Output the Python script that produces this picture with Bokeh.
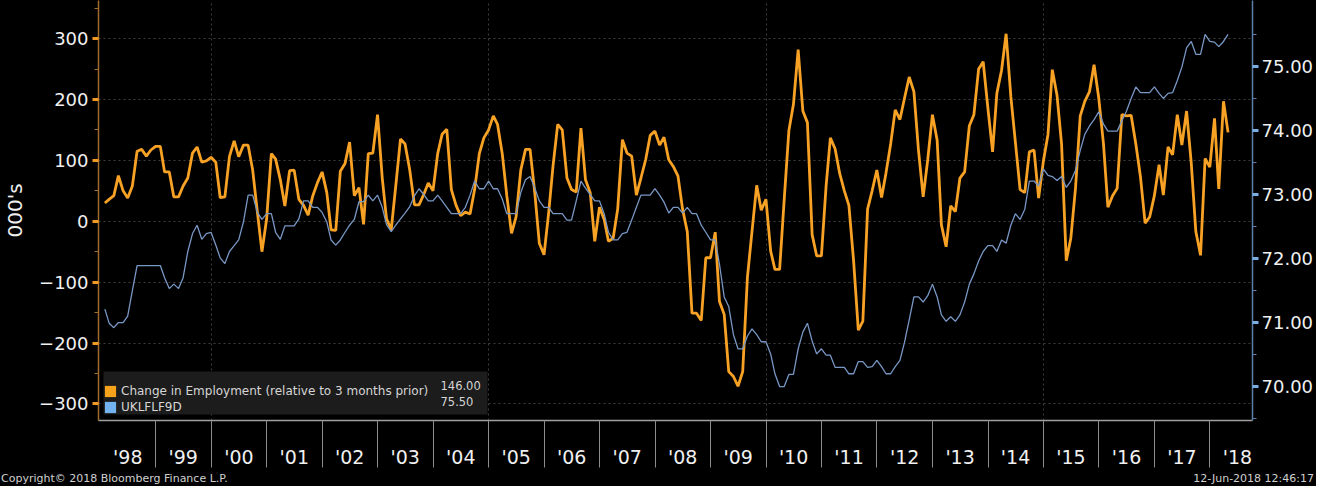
import math
from datetime import datetime
import pandas as pd
from bokeh.plotting import figure
from bokeh.layouts import column
from bokeh.models import (Range1d, LinearAxis, FixedTicker, NumeralTickFormatter,
                          CustomJSTickFormatter, Legend, LegendItem, Label, BoxAnnotation, Div)
from bokeh.embed import file_html
from bokeh.resources import INLINE

# ---------------- data (monthly, Jan 1998 .. Apr 2018) ----------------
emp_change = [  # Change in Employment (relative to 3 months prior), 000's
    30, 36, 42, 75, 50, 38, 58, 115, 118, 107, 117, 123,          # 1998
    123, 81, 81, 40, 40, 58, 71, 112, 122, 97, 99, 105,           # 1999
    97, 39, 40, 106, 132, 106, 125, 125, 84, 15, -50, 4,          # 2000
    111, 102, 68, 25, 83, 84, 36, 26, 10, 42, 63, 81,             # 2001
    47, -14, -15, 82, 95, 130, 42, 55, -5, 111, 112, 175,         # 2002
    71, 4, -14, 58, 135, 127, 84, 27, 27, 44, 63, 50,             # 2003
    111, 143, 151, 52, 26, 9, 15, 12, 52, 111, 137, 150,          # 2004
    173, 159, 111, 42, -20, 7, 84, 118, 118, 47, -36, -55,        # 2005
    15, 90, 159, 150, 71, 52, 48, 153, 68, 47, -33, 23,           # 2006
    3, -33, -28, 20, 134, 112, 107, 43, 71, 101, 141, 148,        # 2007
    125, 138, 101, 90, 74, 20, -17, -151, -151, -163, -60, -60,   # 2008
    -18, -132, -153, -247, -255, -271, -247, -92, -17, 59, 18, 36,  # 2009
    -49, -79, -79, 35, 149, 192, 282, 181, 162, -22, -57, -57,    # 2010
    58, 137, 119, 79, 50, 26, -65, -179, -164, 20, 50, 84,        # 2011
    39, 79, 127, 183, 167, 202, 237, 213, 117, 40, 101, 175,      # 2012
    133, -6, -42, 25, 16, 71, 81, 157, 175, 250, 262, 186,        # 2013
    114, 210, 248, 308, 205, 130, 52, 47, 114, 117, 38, 98,       # 2014
    143, 249, 207, 127, -65, -28, 55, 173, 197, 213, 257, 202,    # 2015
    127, 23, 42, 54, 175, 173, 174, 127, 74, -3, 7, 42,           # 2016
    93, 43, 122, 109, 175, 125, 181, 95, -17, -56, 103, 89,       # 2017
    169, 53, 197, 146,                                            # 2018
]

emp_rate = [  # UKLFLF9D, %
    71.21, 70.99, 70.92, 71.00, 71.00, 71.10, 71.50, 71.89, 71.89, 71.89, 71.89, 71.89,
    71.89, 71.70, 71.53, 71.60, 71.53, 71.70, 72.11, 72.39, 72.52, 72.30, 72.39, 72.41,
    72.21, 72.01, 71.92, 72.11, 72.20, 72.29, 72.57, 72.99, 72.99, 72.72, 72.61, 72.70,
    72.70, 72.41, 72.30, 72.51, 72.51, 72.51, 72.62, 72.90, 72.90, 72.80, 72.80, 72.72,
    72.57, 72.29, 72.21, 72.29, 72.41, 72.52, 72.61, 72.89, 72.89, 72.99, 72.90, 72.99,
    72.80, 72.53, 72.42, 72.52, 72.62, 72.71, 72.81, 72.98, 73.09, 73.00, 72.90, 72.90,
    72.99, 72.90, 72.80, 72.70, 72.70, 72.70, 72.80, 72.99, 73.21, 73.09, 73.09, 73.21,
    73.09, 73.09, 72.93, 72.70, 72.70, 72.70, 73.03, 73.23, 73.28, 73.10, 72.90, 72.80,
    72.80, 72.70, 72.70, 72.70, 72.60, 72.60, 72.90, 73.21, 73.10, 73.00, 72.90, 72.90,
    72.70, 72.41, 72.29, 72.29, 72.39, 72.41, 72.60, 72.80, 72.99, 72.99, 72.99, 73.09,
    72.99, 72.88, 72.71, 72.80, 72.80, 72.71, 72.80, 72.70, 72.70, 72.52, 72.41, 72.29,
    72.29, 71.91, 71.40, 71.25, 70.81, 70.59, 70.59, 70.79, 70.90, 70.81, 70.70, 70.70,
    70.51, 70.20, 70.00, 70.00, 70.19, 70.19, 70.59, 70.85, 70.99, 70.71, 70.51, 70.59,
    70.49, 70.49, 70.30, 70.30, 70.30, 70.20, 70.20, 70.39, 70.39, 70.30, 70.31, 70.41,
    70.31, 70.20, 70.20, 70.31, 70.41, 70.69, 71.04, 71.40, 71.40, 71.32, 71.42, 71.60,
    71.40, 71.12, 71.02, 71.09, 71.02, 71.12, 71.32, 71.60, 71.76, 71.96, 72.11, 72.20,
    72.20, 72.11, 72.29, 72.24, 72.52, 72.70, 72.61, 72.77, 73.21, 73.21, 73.13, 73.40,
    73.30, 73.28, 73.22, 73.28, 73.11, 73.21, 73.38, 73.69, 73.94, 74.07, 74.17, 74.29,
    74.10, 73.99, 73.99, 73.99, 74.15, 74.30, 74.50, 74.68, 74.59, 74.59, 74.59, 74.68,
    74.58, 74.50, 74.58, 74.59, 74.78, 74.99, 75.29, 75.39, 75.19, 75.19, 75.50, 75.39,
    75.38, 75.31, 75.39, 75.50,
]

series_names = ["Change in Employment (relative to 3 months prior)", "UKLFLF9D"]
last_values = ["146.00", "75.50"]
years = list(range(1998, 2019))
year_labels = ["'" + str(y)[-2:] for y in years]
left_ticks = [-300, -200, -100, 0, 100, 200, 300]
left_minor = [-250, -150, -50, 50, 150, 250, 350]
right_ticks = [70, 71, 72, 73, 74, 75]
right_minor = [69.5, 70.5, 71.5, 72.5, 73.5, 74.5, 75.5]
grid_years = [2000, 2005, 2010, 2015]
copyright_text = "Copyright\u00a9 2018 Bloomberg Finance L.P."
stamp_text = "12-Jun-2018 12:46:17"

# ---------------- helpers ----------------
EPOCH = datetime(1970, 1, 1)


def ms(dt):
    return (dt - EPOCH).total_seconds() * 1000.0


dates = pd.date_range("1998-01-01", periods=len(emp_change), freq="MS") + pd.offsets.MonthEnd(0)

mid_ticks = [ms(datetime(y, 7, 1)) for y in years]
sep_ticks = [ms(datetime(y, 1, 1)) for y in years[1:]]
grid_ticks = [ms(datetime(y, 1, 1)) for y in grid_years]

ORANGE = "#f8a225"
BLUE_LINE = "#7897c4"
FONT = "DejaVu Sans"
W = 1316

p = figure(width=W, height=470, x_axis_type="datetime",
           x_range=Range1d(datetime(1997, 12, 20), datetime(2018, 10, 8)),
           y_range=Range1d(-327.3, 362.6),
           output_backend="svg", toolbar_location=None,
           background_fill_color="black", border_fill_color="black",
           outline_line_color=None,
           min_border_left=91, min_border_right=62, min_border_top=0, min_border_bottom=48)
p.title.visible = False

p.extra_y_ranges = {"rate": Range1d(69.47, 76.03)}

# grids
p.ygrid.grid_line_color = "#3e3e3e"
p.ygrid.grid_line_dash = "2 3"
p.xgrid.ticker = FixedTicker(ticks=grid_ticks)
p.xgrid.grid_line_color = "#3e3e3e"
p.xgrid.grid_line_dash = "2 3"

# lines
p.line(dates, emp_change, line_color=ORANGE, line_width=2.8)
p.line(dates, emp_rate, y_range_name="rate", line_color=BLUE_LINE, line_width=1.3)

# left axis
la = p.yaxis[0]
la.ticker = FixedTicker(ticks=left_ticks, minor_ticks=left_minor)
la.axis_line_color = "#a06c2c"
la.axis_line_width = 1.5
la.major_tick_line_color = "#f09a25"
la.major_tick_line_width = 3
la.major_tick_out = 6
la.major_tick_in = 0
la.minor_tick_line_color = "#a06c2c"
la.minor_tick_out = 4
la.minor_tick_in = 0
la.major_label_text_color = "#f0f0f0"
la.major_label_text_font = FONT
la.major_label_text_font_size = "18px"
la.major_label_standoff = 4
la.axis_label = "000's"
la.axis_label_text_font = FONT
la.axis_label_text_font_size = "20px"
la.axis_label_text_font_style = "normal"
la.axis_label_text_color = "#f0f0f0"
la.axis_label_standoff = 9

# right axis
ra = LinearAxis(y_range_name="rate",
                ticker=FixedTicker(ticks=right_ticks, minor_ticks=right_minor),
                formatter=NumeralTickFormatter(format="0.00"))
ra.axis_line_color = "#5c7faa"
ra.axis_line_width = 1.5
ra.major_tick_line_color = "#78b0e6"
ra.major_tick_line_width = 3
ra.major_tick_out = 6
ra.major_tick_in = 0
ra.minor_tick_line_color = "#5c7faa"
ra.minor_tick_out = 4
ra.minor_tick_in = 0
ra.major_label_text_color = "#f0f0f0"
ra.major_label_text_font = FONT
ra.major_label_text_font_size = "18px"
ra.major_label_standoff = 3
p.add_layout(ra, "right")

# bottom axis: labels mid-year, separators at year starts
xa = p.xaxis[0]
xa.ticker = FixedTicker(ticks=mid_ticks, minor_ticks=sep_ticks)
xa.formatter = CustomJSTickFormatter(
    args=dict(mids=mid_ticks, labs=year_labels),
    code="""
let best = 0, bd = Infinity;
for (let i = 0; i < mids.length; i++) {
  const d = Math.abs(mids[i] - tick);
  if (d < bd) { bd = d; best = i; }
}
return labs[best];
""")
xa.axis_line_color = "#a0a0a0"
xa.axis_line_width = 1.5
xa.major_tick_line_color = None
xa.major_tick_out = 0
xa.major_tick_in = 0
xa.minor_tick_line_color = "#8c8c8c"
xa.minor_tick_line_width = 1
xa.minor_tick_out = 47
xa.minor_tick_in = 0
xa.major_label_text_color = "#f0f0f0"
xa.major_label_text_font = FONT
xa.major_label_text_font_size = "19px"
xa.major_label_standoff = -22

# legend background box
p.add_layout(BoxAnnotation(left=5, right=389, bottom=6, top=49,
                           left_units="screen", right_units="screen",
                           bottom_units="screen", top_units="screen",
                           fill_color="#1c1c1c", fill_alpha=1.0, line_color=None))

# off-screen swatch renderers for the legend squares
far = [datetime(1990, 1, 1)]
far2 = [datetime(1990, 1, 2)]
r_o = p.quad(left=far, right=far2, top=[0], bottom=[0], fill_color="#f7a21b", line_color=None)
r_b = p.quad(left=far, right=far2, top=[0], bottom=[0], fill_color="#72b3ef", line_color=None)
legend = Legend(items=[LegendItem(label=series_names[0], renderers=[r_o]),
                       LegendItem(label=series_names[1], renderers=[r_b])],
                location=(5, 6), background_fill_alpha=0, border_line_color=None,
                padding=6, spacing=1, margin=0, glyph_width=14, glyph_height=14,
                label_height=15, label_standoff=4, label_text_font=FONT,
                label_text_font_size="12px", label_text_color="#d6d6d6")
p.add_layout(legend)

for val, yy in zip(last_values, [35.5, 19.5]):
    p.add_layout(Label(x=342, y=yy, x_units="screen", y_units="screen", text=val,
                       text_font=FONT, text_font_size="11.5px", text_color="#d6d6d6",
                       text_baseline="middle", text_align="left"))

# footer strip
foot = Div(
    text=('<div style="display:flex;justify-content:space-between;width:%dpx;height:15px;'
          'line-height:15px;background:#000;color:#d0d0d0;font-family:\'DejaVu Sans\';'
          'font-size:11px;white-space:nowrap;">'
          '<span style="padding-left:1px">%s</span><span style="padding-right:2px">%s</span></div>')
         % (W, copyright_text, stamp_text),
    width=W, height=15, margin=0,
    styles={"background-color": "black"})

layout = column(p, foot, spacing=0, styles={"background-color": "black"})
open("out.html", "w").write(file_html(layout, INLINE))
